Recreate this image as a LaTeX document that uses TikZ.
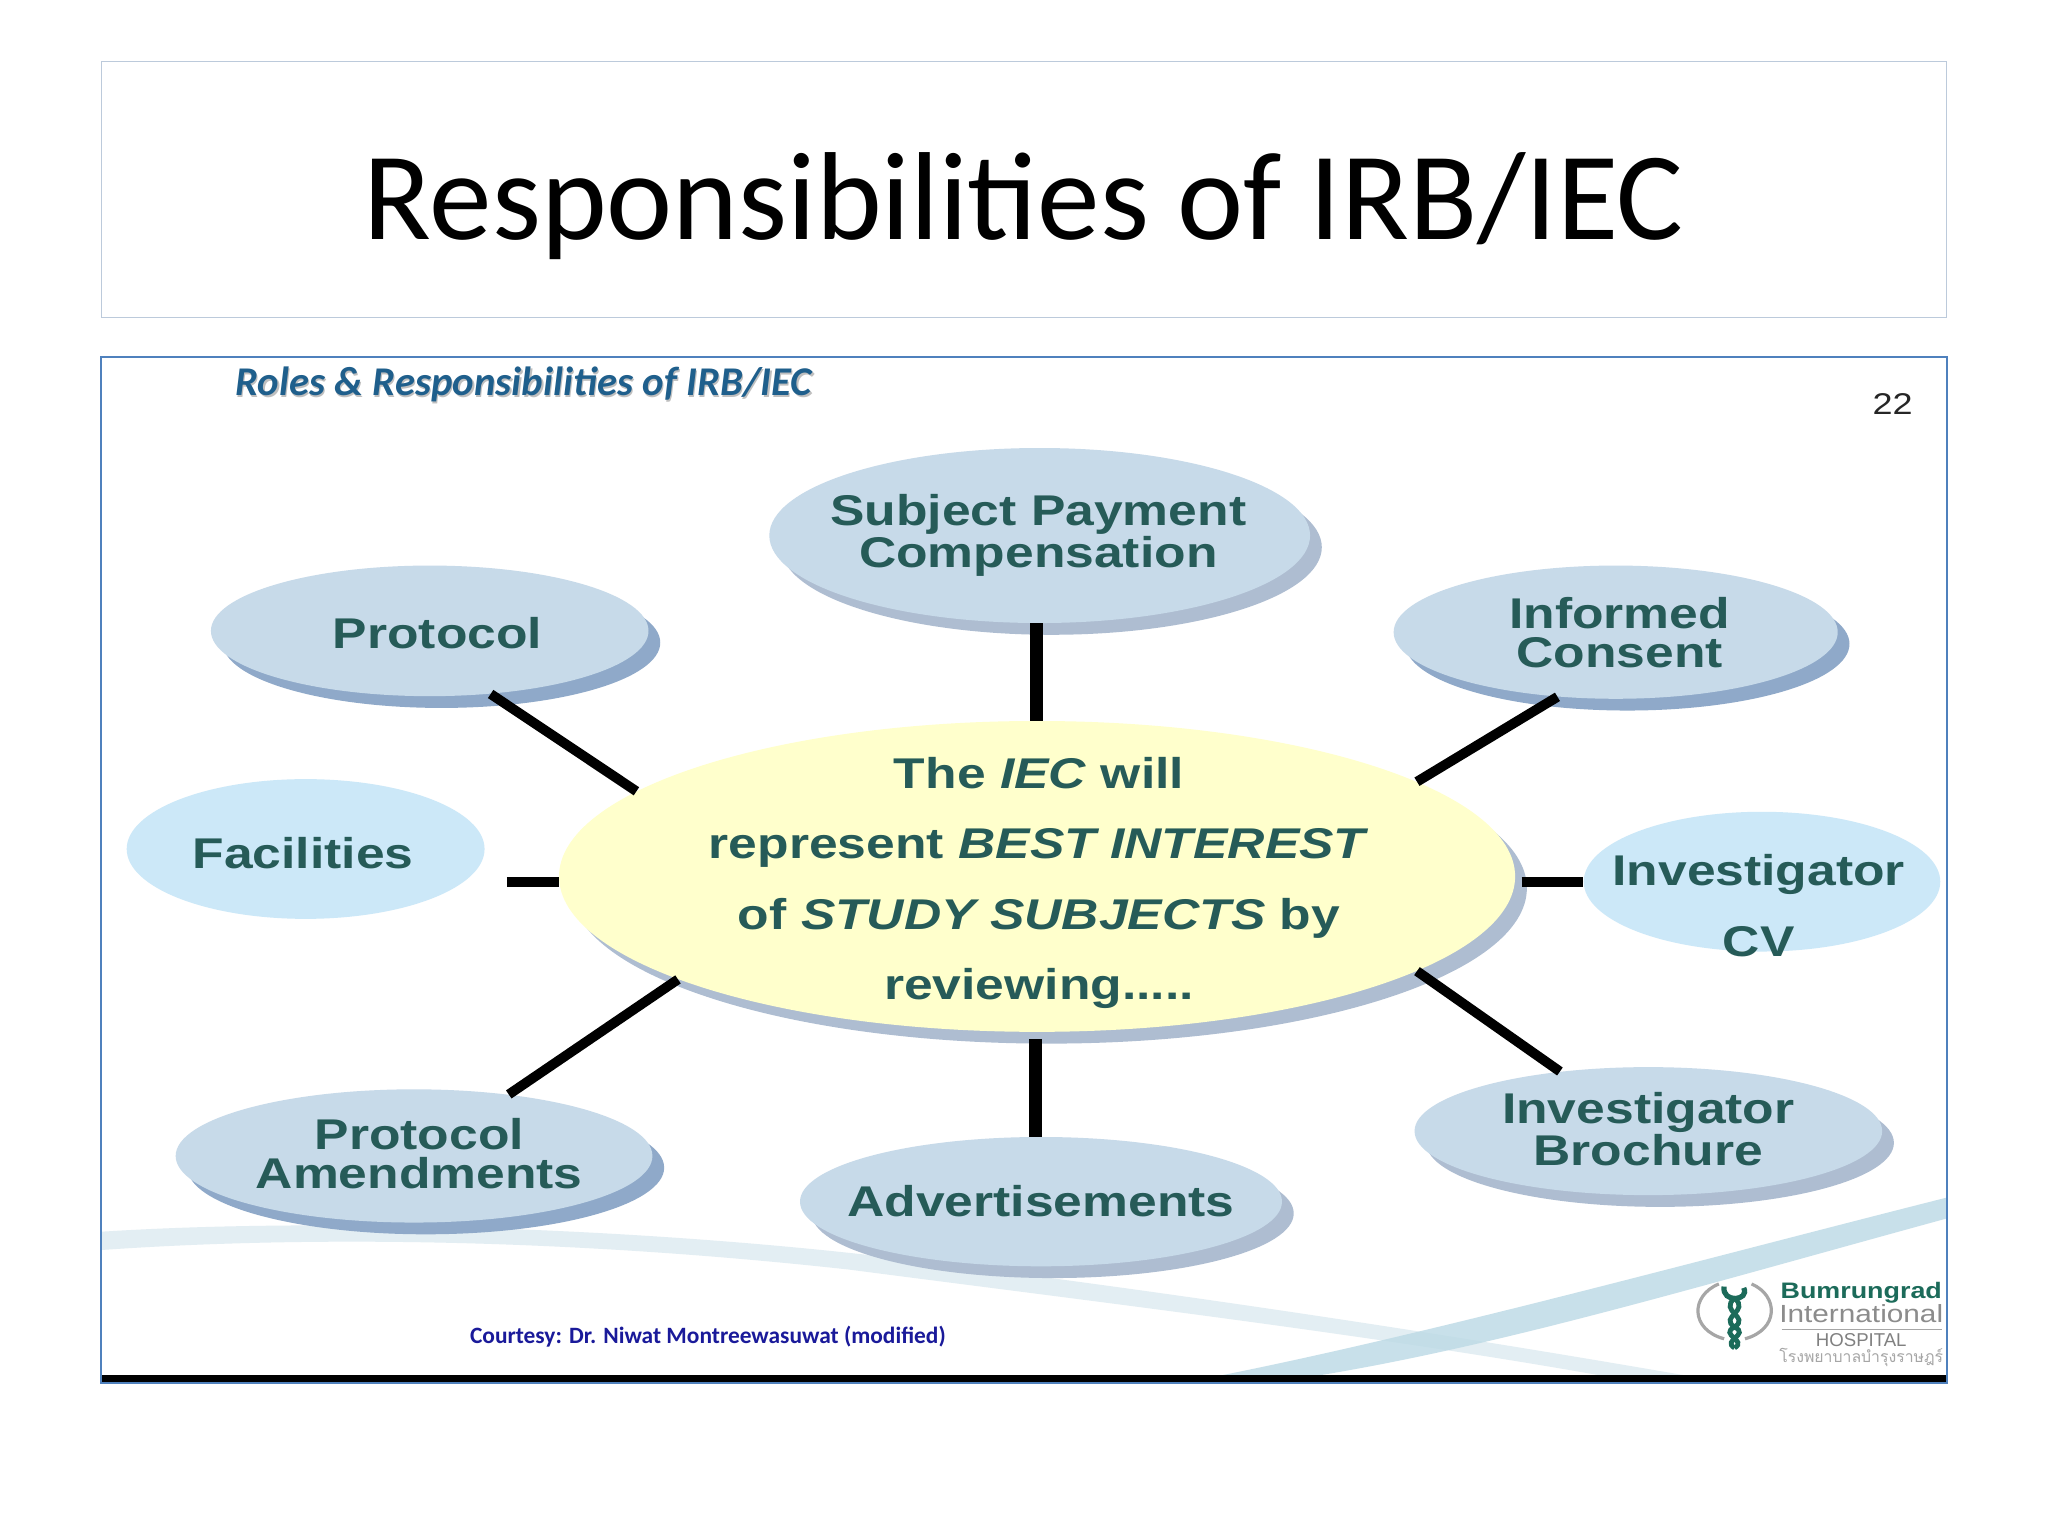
\documentclass[tikz,border=0pt]{standalone}
\usepackage{fontspec}
\setmainfont{Liberation Sans}
\newfontfamily\titlefont{Carlito}
\newfontfamily\labfont[FakeStretch=1.2]{Liberation Sans}
\newfontfamily\thaifont[Script=Thai]{Loma}
\usetikzlibrary{shapes.geometric,shadows}
\newlength{\uu}\setlength{\uu}{0.65306pt}
\definecolor{facecol}{HTML}{C7DAE9}
\definecolor{shadeA}{HTML}{8FA9C9}
\definecolor{shadeB}{HTML}{AEBDD1}
\definecolor{paleblue}{HTML}{CCE8F8}
\definecolor{paleyellow}{HTML}{FFFFCC}
\definecolor{labcol}{HTML}{265B58}
\definecolor{framecol}{HTML}{4F81BD}
\definecolor{titleline}{HTML}{BCCADB}
\definecolor{logogreen}{HTML}{1C6B5A}
\definecolor{headcol}{HTML}{1F5F8C}
\definecolor{swooshA}{HTML}{E3EEF3}
\definecolor{swooshB}{HTML}{BBD9E5}
\definecolor{courtcol}{HTML}{1A1A9A}
\tikzset{
  x=0.65306pt,y=-0.65306pt,
  ell/.style={ellipse,inner sep=0pt,draw=none,fill=#1},
  shadeell/.style={ell=facecol,copy shadow={shadow xshift=9\uu,shadow yshift=-9\uu,fill=shadeA,draw=none,opacity=1}},
  softell/.style={ell=facecol,copy shadow={shadow xshift=9\uu,shadow yshift=-9\uu,fill=shadeB,draw=none,opacity=1}},
  lab/.style={font=\labfont\bfseries\fontsize{21.5pt}{19.6pt}\selectfont,text=labcol,align=center,inner sep=0pt},
  wide/.style={font=\labfont\bfseries\fontsize{21.5pt}{35.3pt}\selectfont,text=labcol,align=center,inner sep=0pt},
  thin/.style={line width=7.5\uu,black},
  thick/.style={line width=10\uu,black},
}
\begin{document}
\begin{tikzpicture}
\useasboundingbox (0,0) rectangle (1568,1176);
\fill[white] (0,0) rectangle (1568,1176);
% title
\node[draw=titleline,line width=0.6pt,minimum width=1412\uu,minimum height=196\uu,inner sep=0pt] (titlebox) at (784,145) {};
\node[font=\titlefont\fontsize{62.6pt}{66pt}\selectfont,inner sep=0pt] (title) at (784,158) {Responsibilities of IRB/IEC};
% frame background
\node[minimum width=1412\uu,minimum height=785\uu,inner sep=0pt,fill=white] (frame) at (784,666) {};
\begin{scope}
\clip (78,273) rectangle (1490,1053);
\fill[swooshA] (78,943) .. controls (250,932) and (500,940) .. (700,965) .. controls (900,990) and (1100,1020) .. (1290,1053) -- (1225,1053) .. controls (1050,1022) and (850,998) .. (650,972) .. controls (450,950) and (250,945) .. (78,957) -- cycle;
\fill[swooshB,opacity=0.8] (935,1053) .. controls (1100,1020) and (1300,965) .. (1490,917) -- (1490,933) .. controls (1300,985) and (1150,1030) .. (1010,1053) -- cycle;
\end{scope}
\fill[black] (78,1053) rectangle (1490,1058);
\draw[framecol,line width=1pt] (frame.north west) rectangle (frame.south east);
% slide head
\node[font=\titlefont\bfseries\itshape\fontsize{20.4pt}{22pt}\selectfont,text=black!25,inner sep=0pt] (headshadow) at (402,296) {Roles \& Responsibili\kern0pt ties of IRB/IEC};
\node[font=\titlefont\bfseries\itshape\fontsize{20.4pt}{22pt}\selectfont,text=headcol,inner sep=0pt] (head) at (401,294) {Roles \& Responsibili\kern0pt ties of IRB/IEC};
\node[font=\labfont\fontsize{15pt}{16pt}\selectfont,text=black!85,inner sep=0pt] (num) at (1449,309) {22};
% ellipses
\node[softell,minimum width=414\uu,minimum height=134\uu] (subj) at (796,410) {};
\node[shadeell,minimum width=335\uu,minimum height=100\uu] (prot) at (329,483) {};
\node[shadeell,minimum width=340\uu,minimum height=102\uu] (cons) at (1237,484) {};
\node[ell=paleblue,minimum width=274\uu,minimum height=107\uu] (faci) at (234,650) {};
\node[ell=paleblue,minimum width=273\uu,minimum height=107\uu] (inve) at (1349,675) {};
\node[shadeell,minimum width=365\uu,minimum height=102\uu] (amen) at (317,885) {};
\node[softell,minimum width=369\uu,minimum height=99\uu] (advt) at (797,920) {};
\node[softell,minimum width=358\uu,minimum height=98\uu] (broc) at (1262,866) {};
\node[softell,minimum width=732\uu,minimum height=238\uu,ell=paleyellow] (core) at (794,671) {};
% connectors
\coordinate (facend) at (388,675);
\coordinate (invend) at (1165,675);
\draw[thick] (subj.-92.6) -- (subj.-92.6 |- core.north);
\draw[thin] (prot.-46) -- (core.168.4);
\draw[thin] (cons.228.4) -- (core.14.2);
\draw[thin] (facend) -- (core.west |- facend);
\draw[thin] (invend) -- (inve.west);
\draw[thin] (amen.33.5) -- (core.196.7);
\draw[thick,shorten <=3.3pt] (core.south) ++(-1,0) -- (advt.north -| 793,0);
\draw[thin] (broc.146.1) -- (core.-14.1);
% labels
\node[lab] (tsubj) at (795,410) {Subject Payment\\Compensation};
\node[lab] (tprot) at (335,485) {Protocol};
\node[lab] (tcons) at (1240,484.5) {Informed\\Consent};
\node[lab] (tfaci) at (232,653) {Facilities};
\node[wide] (tinve) at (1346.5,693.5) {Investigator\\CV};
\node[lab] (tamen) at (321,883) {Protocol\\Amendments};
\node[lab] (tadvt) at (797,919.5) {Advertisements};
\node[lab] (tbroc) at (1262,864.5) {Investigator\\Brochure};
\node[wide] (tcore) at (795.5,676) {The \textit{IEC} will\\represent \textit{BEST INTEREST}\\of \textit{STUDY SUBJECTS} by\\reviewing.....};
% courtesy
\node[font=\titlefont\bfseries\fontsize{11.7pt}{13pt}\selectfont,text=courtcol,inner sep=0pt] (court) at (542,1023) {Courtesy: Dr. Niwat Montreewasuwat (modified)};
% logo
\draw[gray!70,line width=1.6pt] (1316,983) .. controls (1294,992) and (1294,1018) .. (1320,1025);
\draw[gray!70,line width=1.6pt] (1341,983) .. controls (1362,992) and (1362,1018) .. (1336,1025);
\draw[logogreen,line width=2.6pt] (1320,985) .. controls (1318,998) and (1340,996) .. (1335,986);
\draw[logogreen,line width=2.4pt] (1328,994) .. controls (1340,1004) and (1316,1008) .. (1328,1016) .. controls (1340,1022) and (1318,1026) .. (1328,1032);
\draw[logogreen,line width=2.4pt] (1328,994) .. controls (1316,1004) and (1340,1008) .. (1328,1016) .. controls (1316,1022) and (1338,1026) .. (1328,1032);
\node[font=\labfont\bfseries\fontsize{11.2pt}{12pt}\selectfont,text=logogreen,inner sep=0pt] (lg1) at (1425,990) {Bumrungrad};
\node[font=\labfont\fontsize{12.4pt}{13pt}\selectfont,text=gray!90,inner sep=0pt] (lg2) at (1425,1006) {International};
\draw[gray!70,line width=0.6pt] (1364,1018) -- (1487,1018);
\node[font=\fontsize{9.3pt}{10pt}\selectfont,text=gray,inner sep=0pt] (lg3) at (1425,1026) {HOSPITAL};
\node[font=\thaifont\fontsize{7.9pt}{9pt}\selectfont,text=gray!70,inner sep=0pt] (lg4) at (1425,1039) {โรงพยาบาลบำรุงราษฎร์};
\end{tikzpicture}
\end{document}
